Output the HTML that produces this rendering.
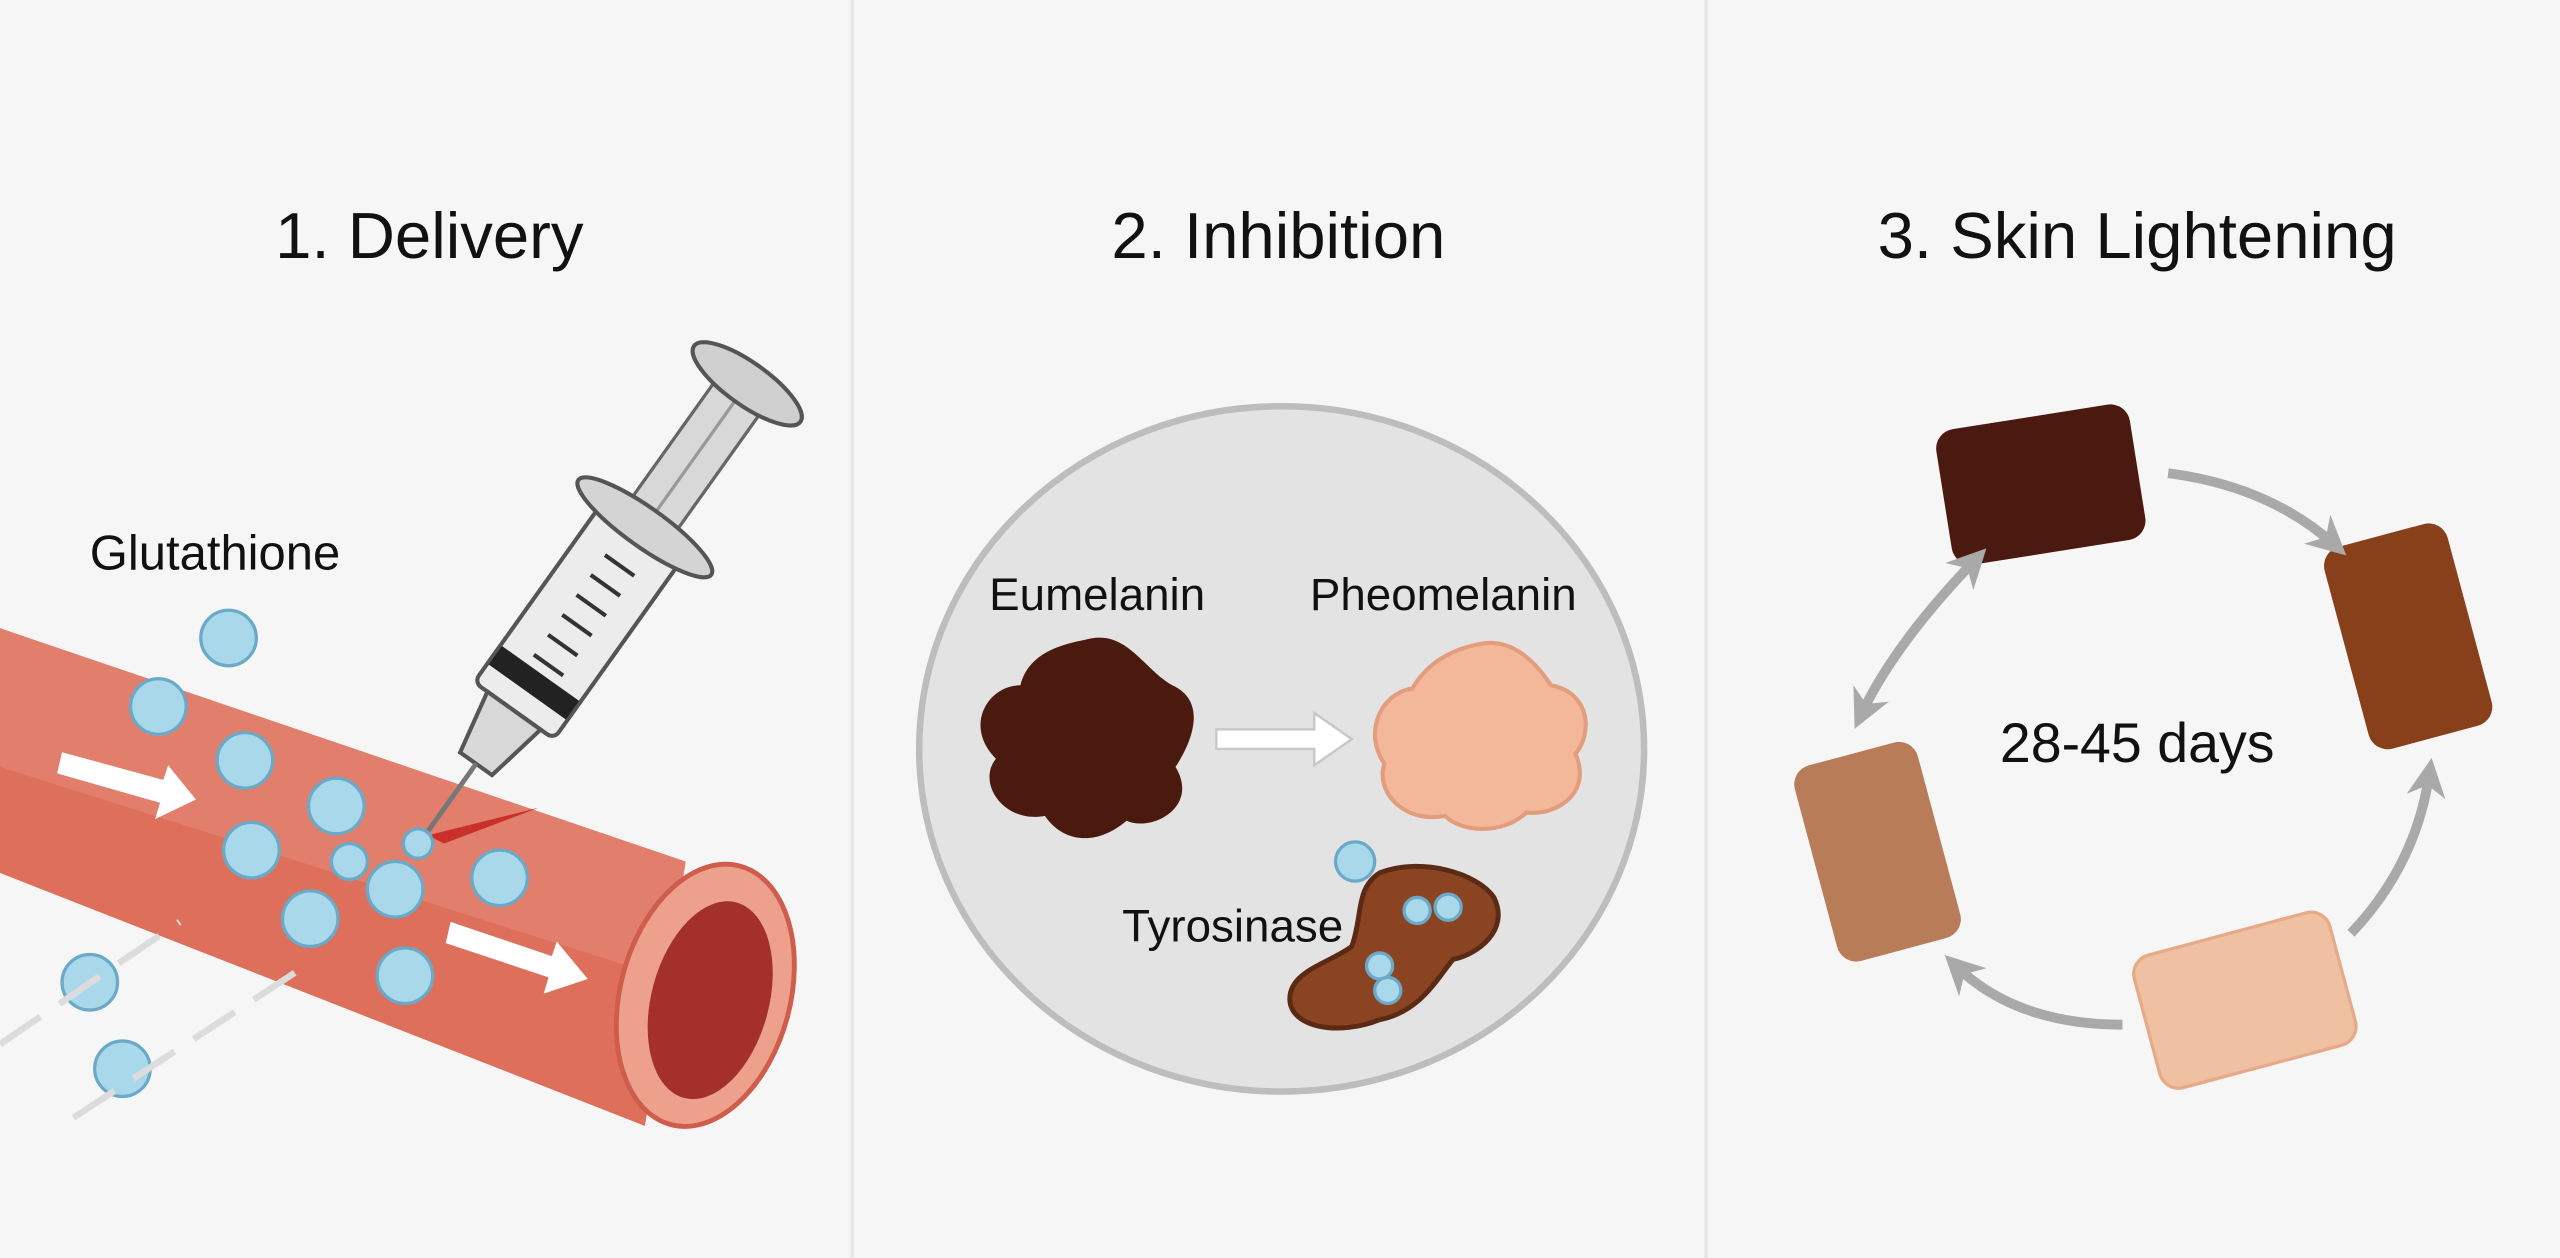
<!DOCTYPE html>
<html><head><meta charset="utf-8"><style>
html,body{margin:0;padding:0;background:#f6f6f6;}
svg{display:block;}
text{font-family:"Liberation Sans",sans-serif;fill:#111;}
</style></head><body>
<svg width="2560" height="1258" viewBox="0 0 1568 771" preserveAspectRatio="none" xmlns="http://www.w3.org/2000/svg">
<defs>
<marker id="ah" viewBox="0 0 10 10" refX="6" refY="5" markerWidth="4" markerHeight="4" orient="auto-start-reverse"><path d="M0,0 L10,5 L0,10 L3,5 Z" fill="#a9a9a9"/></marker>
</defs>
<rect width="1568" height="771" fill="#f6f6f6"/>
<line x1="522" y1="0" x2="522" y2="771" stroke="#e6e6e6" stroke-width="2"/>
<line x1="1045" y1="0" x2="1045" y2="771" stroke="#e6e6e6" stroke-width="2"/>

<text x="263" y="158" font-size="40" text-anchor="middle">1. Delivery</text>
<text x="783" y="158" font-size="40" text-anchor="middle">2. Inhibition</text>
<text x="1309" y="158" font-size="40" text-anchor="middle">3. Skin Lightening</text>

<!-- Panel 1 -->
<text x="55" y="349" font-size="30">Glutathione</text>
<path d="M0,385 L420,528 L395,690 L0,535 Z" fill="#e27f6c"/>
<path d="M0,470 L410,600 L395,690 L0,535 Z" fill="#d9624f" opacity="0.55"/>
<ellipse cx="432" cy="610" rx="52" ry="82" transform="rotate(15 432 610)" fill="#eda08c" stroke="#cf5d4b" stroke-width="3"/>
<ellipse cx="435" cy="613" rx="36" ry="62" transform="rotate(15 435 613)" fill="#a3302a"/>
<path d="M262,512 L330,495 L272,517 Z" fill="#c9302a"/>

<!-- syringe -->
<g transform="translate(460,232) rotate(35.5)">
<rect x="-17" y="8" width="34" height="110" fill="#d8d8d8" stroke="#666" stroke-width="2"/>
<line x1="0" y1="10" x2="0" y2="115" stroke="#999" stroke-width="2"/>
<ellipse cx="0" cy="4" rx="40" ry="13" fill="#cfcfcf" stroke="#555" stroke-width="2.5"/>
<rect x="-30" y="115" width="60" height="135" rx="5" fill="#ececec" stroke="#555" stroke-width="2.5"/>
<ellipse cx="0" cy="112" rx="50" ry="12" fill="#d4d4d4" stroke="#555" stroke-width="2.5"/>
<g stroke="#333" stroke-width="2.5">
<line x1="-10" y1="140" x2="12" y2="140"/><line x1="-10" y1="155" x2="12" y2="155"/><line x1="-10" y1="170" x2="12" y2="170"/><line x1="-10" y1="185" x2="12" y2="185"/><line x1="-10" y1="200" x2="12" y2="200"/><line x1="-10" y1="215" x2="12" y2="215"/>
</g>
<rect x="-29" y="222" width="58" height="14" fill="#222"/>
<path d="M-20,250 L20,250 L12,290 L-12,290 Z" fill="#d8d8d8" stroke="#555" stroke-width="2.5"/>
<line x1="0" y1="290" x2="0" y2="345" stroke="#777" stroke-width="3"/>
</g>

<g fill="#a8d8ea" stroke="#6aaac8" stroke-width="2">
<circle cx="140" cy="391" r="17"/><circle cx="97" cy="433" r="17"/><circle cx="150" cy="466" r="17"/><circle cx="206" cy="494" r="17"/><circle cx="154" cy="521" r="17"/><circle cx="242" cy="545" r="17"/><circle cx="190" cy="563" r="17"/><circle cx="306" cy="538" r="17"/><circle cx="248" cy="598" r="17"/><circle cx="55" cy="602" r="17"/><circle cx="75" cy="655" r="17"/><circle cx="214" cy="528" r="11"/><circle cx="256" cy="517" r="9"/>
</g>
<g fill="#fff">
<path d="M38,461 L100,478 L103,469 L120,490 L95,502 L98,492 L35,474 Z"/>
<path d="M276,565 L338,586 L341,577 L360,600 L333,609 L336,599 L273,578 Z"/>
</g>
<g stroke="#dcdcdc" stroke-width="4" fill="none" stroke-dasharray="30 14">
<path d="M0,640 L110,565"/><path d="M45,685 L190,590"/>
</g>

<!-- Panel 2 -->
<ellipse cx="785" cy="459" rx="222" ry="210" fill="#e3e3e3" stroke="#bdbdbd" stroke-width="4"/>
<text x="672" y="374" font-size="28" text-anchor="middle">Eumelanin</text>
<text x="884" y="374" font-size="28" text-anchor="middle">Pheomelanin</text>
<path d="M665,392 C690,385 700,410 718,420 C740,430 730,455 720,470 C735,495 705,510 690,503 C670,520 650,515 640,500 C615,505 598,480 610,465 C590,445 605,420 625,420 C630,400 650,395 665,392 Z" fill="#4a1a0f"/>
<path d="M905,395 C925,390 940,405 950,420 C975,425 975,450 965,462 C975,485 955,500 935,498 C920,512 895,510 885,500 C860,505 842,485 848,468 C835,450 845,425 865,422 C875,405 890,398 905,395 Z" fill="#f3b89a" stroke="#e39c7c" stroke-width="2.5"/>
<path d="M745,447 L805,447 L805,437 L828,453 L805,469 L805,459 L745,459 Z" fill="#fff" stroke="#c8c8c8" stroke-width="1.5"/>
<text x="755" y="577" font-size="28" text-anchor="middle">Tyrosinase</text>
<path d="M845,535 C870,525 905,535 915,550 C925,570 905,585 890,588 C880,600 870,620 845,625 C820,635 790,630 790,612 C790,595 815,590 828,580 C835,560 830,545 845,535 Z" fill="#8a4422" stroke="#5a2a14" stroke-width="3"/>
<g fill="#a8d8ea" stroke="#6aaac8" stroke-width="2">
<circle cx="830" cy="528" r="12"/><circle cx="868" cy="558" r="8"/><circle cx="887" cy="556" r="8"/><circle cx="845" cy="592" r="8"/><circle cx="850" cy="607" r="8"/>
</g>

<!-- Panel 3 -->
<g transform="rotate(-9 1250 297)"><rect x="1190" y="255" width="120" height="84" rx="12" fill="#4a1a10"/></g>
<g transform="rotate(-15 1475 390)"><rect x="1436" y="326" width="78" height="128" rx="12" fill="#87401a"/></g>
<g transform="rotate(-15 1150 522)"><rect x="1111" y="460" width="78" height="124" rx="12" fill="#b97c58"/></g>
<g transform="rotate(-15 1375 613)"><rect x="1313" y="571" width="124" height="84" rx="12" fill="#f0c0a2" stroke="#e6aa88" stroke-width="2"/></g>
<g stroke="#a9a9a9" stroke-width="6" fill="none">
<path d="M1328,290 Q1390,298 1430,334" marker-end="url(#ah)"/>
<path d="M1440,572 Q1480,530 1488,474" marker-end="url(#ah)"/>
<path d="M1300,628 Q1235,628 1198,592" marker-end="url(#ah)"/>
<path d="M1210,343 Q1160,395 1140,438" marker-start="url(#ah)" marker-end="url(#ah)"/>
</g>
<text x="1309" y="467" font-size="34" text-anchor="middle">28-45 days</text>
</svg>
</body></html>
